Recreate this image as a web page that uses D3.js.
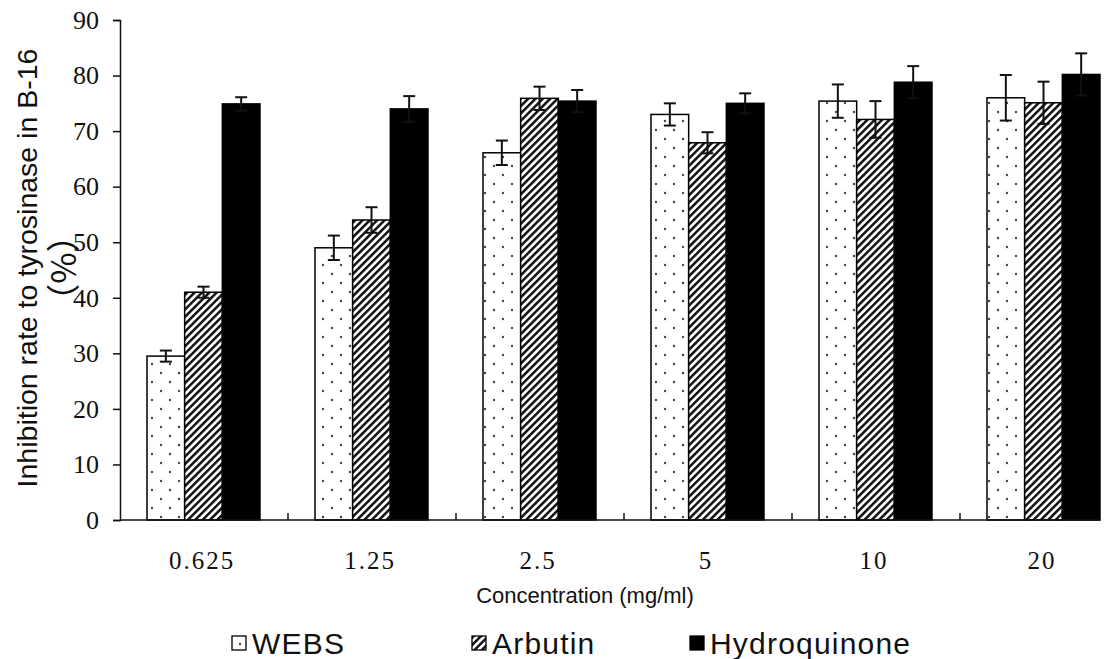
<!DOCTYPE html>
<html>
<head>
<meta charset="utf-8">
<script src="https://cdn.jsdelivr.net/npm/d3@7"></script>
<style>
  body { margin: 0; background: #fff; }
  svg { display: block; }
</style>
</head>
<body>
<svg id="chart" width="1117" height="659"></svg>
<script>
// values
const categories = ["0.625", "1.25", "2.5", "5", "10", "20"];
const seriesNames = ["WEBS", "Arbutin", "Hydroquinone"];
const webs = [29.5, 49.0, 66.1, 73.0, 75.4, 76.0];
const websErr = [1.0, 2.2, 2.2, 2.0, 3.0, 4.1];
const arbutin = [41.0, 54.0, 75.9, 67.9, 72.1, 75.1];
const arbutinErr = [1.0, 2.3, 2.1, 1.9, 3.3, 3.8];
const hydro = [74.9, 74.0, 75.4, 75.0, 78.8, 80.2];
const hydroErr = [1.2, 2.3, 2.0, 1.8, 2.9, 3.8];
const yTicks = [0, 10, 20, 30, 40, 50, 60, 70, 80, 90];

const values = [webs, arbutin, hydro];
const errors = [websErr, arbutinErr, hydroErr];
const fills = ["url(#dots)", "url(#stripes)", "#000"];

const svg = d3.select("#chart");
const plotLeft = 120, plotRight = 1100, plotTop = 20, plotBottom = 520;

// defs: patterns
const defs = svg.append("defs");
const dots = defs.append("pattern")
  .attr("id", "dots").attr("patternUnits", "userSpaceOnUse")
  .attr("width", 18).attr("height", 18).attr("x", 148).attr("y", 0);
dots.append("rect").attr("width", 18).attr("height", 18).attr("fill", "#fff");
dots.append("circle").attr("cx", 4).attr("cy", 4).attr("r", 1.2).attr("fill", "#444");
dots.append("circle").attr("cx", 13).attr("cy", 13).attr("r", 1.2).attr("fill", "#444");

const stripes = defs.append("pattern")
  .attr("id", "stripes").attr("patternUnits", "userSpaceOnUse")
  .attr("width", 5.2).attr("height", 10)
  .attr("patternTransform", "rotate(45)");
stripes.append("rect").attr("width", 5.2).attr("height", 10).attr("fill", "#fff");
stripes.append("rect").attr("width", 2.5).attr("height", 10).attr("fill", "#111");

const dotBox = defs.append("pattern")
  .attr("id", "dotbox").attr("patternUnits", "objectBoundingBox")
  .attr("width", 1).attr("height", 1);
dotBox.append("rect").attr("width", 14).attr("height", 14).attr("fill", "#fff");
dotBox.append("circle").attr("cx", 8).attr("cy", 8).attr("r", 1.2).attr("fill", "#444");

// scales
const x = d3.scaleBand().domain(categories).range([plotLeft, 1128]);
const xs = d3.scaleBand().domain(seriesNames).range([27, 140]);
const y = d3.scaleLinear().domain([0, 90]).range([plotBottom, plotTop]);

// bars
seriesNames.forEach(function(name, s) {
  svg.append("g").selectAll("rect")
    .data(categories)
    .join("rect")
    .attr("x", d => x(d) + xs(name))
    .attr("y", (d, i) => y(values[s][i]))
    .attr("width", xs.bandwidth())
    .attr("height", (d, i) => y(0) - y(values[s][i]))
    .attr("fill", fills[s])
    .attr("stroke", "#000")
    .attr("stroke-width", 1.5);
});

// error bars
seriesNames.forEach(function(name, s) {
  const g = svg.append("g").attr("stroke", "#111").attr("stroke-width", 2);
  categories.forEach(function(c, i) {
    const cx = x(c) + xs(name) + xs.bandwidth() / 2;
    const hi = y(values[s][i] + errors[s][i]);
    const lo = y(values[s][i] - errors[s][i]);
    g.append("line").attr("x1", cx).attr("x2", cx).attr("y1", hi).attr("y2", lo);
    g.append("line").attr("x1", cx - 6).attr("x2", cx + 6).attr("y1", hi).attr("y2", hi);
    g.append("line").attr("x1", cx - 6).attr("x2", cx + 6).attr("y1", lo).attr("y2", lo);
  });
});

// y axis
const yAxis = svg.append("g")
  .attr("transform", "translate(" + plotLeft + ",0)")
  .call(d3.axisLeft(y).tickValues(yTicks).tickSize(7).tickPadding(14));
yAxis.select(".domain").attr("stroke", "#111").attr("stroke-width", 1.5);
yAxis.selectAll(".tick line").attr("stroke", "#111").attr("stroke-width", 1.5);
yAxis.selectAll(".tick text")
  .attr("font-family", "'Liberation Serif', serif")
  .attr("font-size", 26).attr("fill", "#111");

// x axis
const xAxis = svg.append("g")
  .attr("transform", "translate(0," + plotBottom + ")");
xAxis.append("line")
  .attr("x1", plotLeft).attr("x2", plotRight)
  .attr("stroke", "#111").attr("stroke-width", 1.5);
xAxis.selectAll(".xtick")
  .data(categories.slice(1))
  .join("line")
  .attr("x1", d => x(d)).attr("x2", d => x(d))
  .attr("y1", 0).attr("y2", -7)
  .attr("stroke", "#111").attr("stroke-width", 1.5);
xAxis.selectAll(".xlab")
  .data(categories)
  .join("text")
  .attr("x", d => x(d) + x.bandwidth() / 2 - 2)
  .attr("y", 49)
  .attr("text-anchor", "middle")
  .attr("font-family", "'Liberation Serif', serif")
  .attr("font-size", 25).attr("letter-spacing", 2).attr("fill", "#111")
  .text(d => d);

// axis titles
svg.append("text")
  .attr("x", 585).attr("y", 603)
  .attr("text-anchor", "middle")
  .attr("font-family", "'Liberation Sans', Arial, sans-serif")
  .attr("font-size", 22).attr("fill", "#111")
  .text("Concentration (mg/ml)");

svg.append("text")
  .attr("transform", "translate(37,268) rotate(-90)")
  .attr("text-anchor", "middle")
  .attr("font-family", "'Liberation Sans', Arial, sans-serif")
  .attr("font-size", 28.5).attr("fill", "#111")
  .text("Inhibition rate to tyrosinase in B-16");
svg.append("text")
  .attr("transform", "translate(76,268) rotate(-90)")
  .attr("text-anchor", "middle")
  .attr("font-family", "'Noto Sans CJK SC', sans-serif")
  .attr("font-size", 34)
  .attr("fill", "#111")
  .text("（%）");

// legend
const legendLeft = { "WEBS": 232, "Arbutin": 472, "Hydroquinone": 690 };
const legendFills = ["url(#dotbox)", "url(#stripes)", "#000"];
const lg = svg.append("g").selectAll("g")
  .data(seriesNames)
  .join("g")
  .attr("transform", d => "translate(" + legendLeft[d] + ",636)");
lg.append("rect")
  .attr("width", 14).attr("height", 14)
  .attr("fill", (d, i) => legendFills[i])
  .attr("stroke", "#000").attr("stroke-width", 1.3);
lg.append("text")
  .attr("x", 20).attr("y", 18)
  .attr("font-family", "'Liberation Sans', Arial, sans-serif")
  .attr("font-size", 30).attr("letter-spacing", 1.2).attr("fill", "#111")
  .text(d => d);
</script>
</body>
</html>
